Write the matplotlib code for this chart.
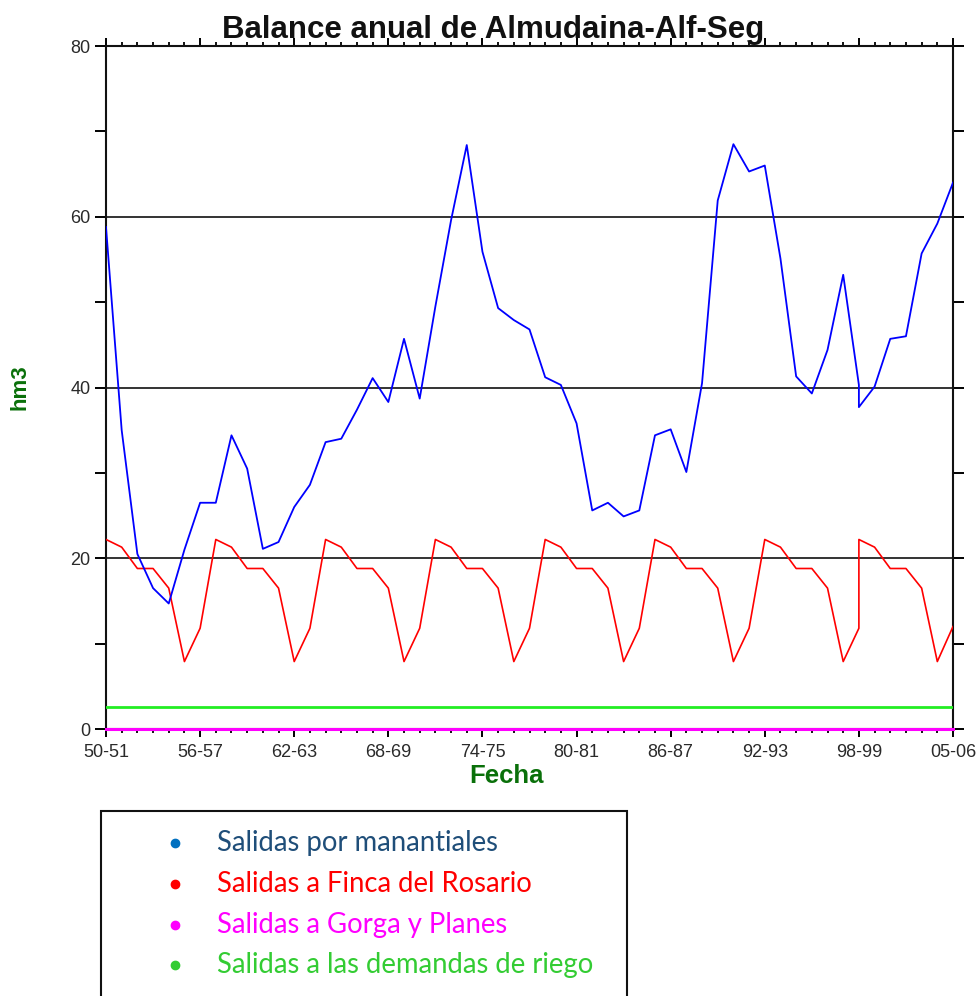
"""
Balance anual de Almudaina-Alf-Seg: salidas del acuífero por año hidrológico.

Salida: out.png
"""

import matplotlib
matplotlib.use("Agg")
import matplotlib.pyplot as plt
from matplotlib.lines import Line2D
from matplotlib.patches import Rectangle
from matplotlib.ticker import FixedLocator, MultipleLocator


# =========================================================
# Datos (hm3 por año hidrológico)
# =========================================================

# año de inicio de cada registro; 98-99 y 99-00 comparten fecha en la serie
anio = list(range(1950, 1999)) + list(range(1998, 2005))

salidas_manantiales = [
    58.8, 35.0, 20.5, 16.5, 14.7, 21.0, 26.5, 26.5, 34.4, 30.5,
    21.1, 21.9, 26.0, 28.6, 33.6, 34.0, 37.4, 41.1, 38.3, 45.7,
    38.7, 49.5, 59.6, 68.4, 55.9, 49.3, 47.9, 46.8, 41.2, 40.3,
    35.8, 25.6, 26.5, 24.9, 25.6, 34.4, 35.1, 30.1, 40.5, 61.9,
    68.5, 65.3, 66.0, 55.1, 41.3, 39.3, 44.4, 53.2, 40.3, 37.7,
    40.1, 45.7, 46.0, 55.7, 59.2, 64.0,
]

salidas_finca_rosario = [
    22.2, 21.3, 18.8, 18.8, 16.5, 7.9, 11.8,
    22.2, 21.3, 18.8, 18.8, 16.5, 7.9, 11.8,
    22.2, 21.3, 18.8, 18.8, 16.5, 7.9, 11.8,
    22.2, 21.3, 18.8, 18.8, 16.5, 7.9, 11.8,
    22.2, 21.3, 18.8, 18.8, 16.5, 7.9, 11.8,
    22.2, 21.3, 18.8, 18.8, 16.5, 7.9, 11.8,
    22.2, 21.3, 18.8, 18.8, 16.5, 7.9, 11.8,
    22.2, 21.3, 18.8, 18.8, 16.5, 7.9, 12.0,
]

salidas_gorga_planes = [0.0] * 56
salidas_riego = [2.6] * 56

ticks_anio = [1950, 1956, 1962, 1968, 1974, 1980, 1986, 1992, 1998, 2004]
etiquetas_anio = ["50-51", "56-57", "62-63", "68-69", "74-75",
                  "80-81", "86-87", "92-93", "98-99", "05-06"]

leyenda_textos = [
    "Salidas por manantiales",
    "Salidas a Finca del Rosario",
    "Salidas a Gorga y Planes",
    "Salidas a las demandas de riego",
]
leyenda_puntos = ["#0070c0", "#ff0000", "#ff00ff", "#33cc33"]
leyenda_colores = ["#1f4e79", "#ff0000", "#ff00ff", "#33cc33"]


# =========================================================
# Figura
# =========================================================

W, H = 979, 996
fig = plt.figure(figsize=(W / 100, H / 100), dpi=100)
fig.patch.set_facecolor("white")

ARIAL = ["Liberation Sans", "DejaVu Sans"]

ax = fig.add_axes([106 / W, 1 - 729 / H, (953 - 106) / W, (729 - 46) / H])

for y in (20, 40, 60):
    ax.axhline(y, color="#111111", lw=1.2, zorder=1)

ax.plot(anio, salidas_riego, color="#22ee22", lw=2.0, zorder=3)
ax.plot(anio, salidas_finca_rosario, color="#ff0000", lw=1.2, zorder=4)
ax.plot(anio, salidas_manantiales, color="#0000ff", lw=1.3, zorder=5)
ax.plot(anio, salidas_gorga_planes, color="#ff00ff", lw=2.2, zorder=6,
        clip_on=False)

ax.set_xlim(1950, 2004)
ax.set_ylim(0, 80)

ax.xaxis.set_major_locator(FixedLocator(ticks_anio))
ax.set_xticklabels(etiquetas_anio)
ax.xaxis.set_minor_locator(MultipleLocator(1))
ax.yaxis.set_major_locator(MultipleLocator(20))
ax.yaxis.set_minor_locator(MultipleLocator(10))

for s in ax.spines.values():
    s.set_linewidth(1.5)
    s.set_color("#111111")

ax.tick_params(axis="x", which="major", direction="out", length=5.5,
               width=1.4, top=True, bottom=True, pad=5,
               labelsize=13, labelcolor="#2a2a2a")
ax.tick_params(axis="x", which="minor", direction="out", length=3,
               width=1.3, top=True, bottom=True)
ax.tick_params(axis="y", which="both", direction="out", length=8,
               width=1.4, left=True, right=True, pad=3,
               labelsize=13, labelcolor="#2a2a2a")
for lab in ax.get_xticklabels() + ax.get_yticklabels():
    lab.set_family(ARIAL)

# títulos y ejes
fig.text(493 / W, 1 - 38 / H, "Balance anual de Almudaina-Alf-Seg",
         ha="center", va="baseline", fontsize=22.5, fontweight="bold",
         family=ARIAL, color="#111111")
fig.text(507 / W, 1 - 783 / H, "Fecha", ha="center", va="baseline",
         fontsize=18.5, fontweight="bold", family=ARIAL, color="#0a700a")
fig.text(20 / W, 1 - 387 / H, "hm3", ha="center", va="center",
         rotation=90, fontsize=16, fontweight="bold", family=ARIAL,
         color="#0a700a")

# =========================================================
# Leyenda
# =========================================================

caja = Rectangle((101 / W, -0.02), (627 - 101) / W, 0.02 + (996 - 811) / H,
                 transform=fig.transFigure, fill=False, lw=1.5,
                 edgecolor="#111111")
fig.add_artist(caja)

filas_y = [843, 884, 925, 965]
for texto, punto, color, yp in zip(leyenda_textos, leyenda_puntos,
                                   leyenda_colores, filas_y):
    fig.add_artist(Line2D([175 / W], [1 - yp / H], marker="o", ms=6,
                          color=punto, transform=fig.transFigure))
    fig.text(217 / W, 1 - yp / H, texto, ha="left", va="center",
             fontsize=19.8, family=["Lato", "DejaVu Sans"], color=color)

fig.savefig("out.png", dpi=100)
